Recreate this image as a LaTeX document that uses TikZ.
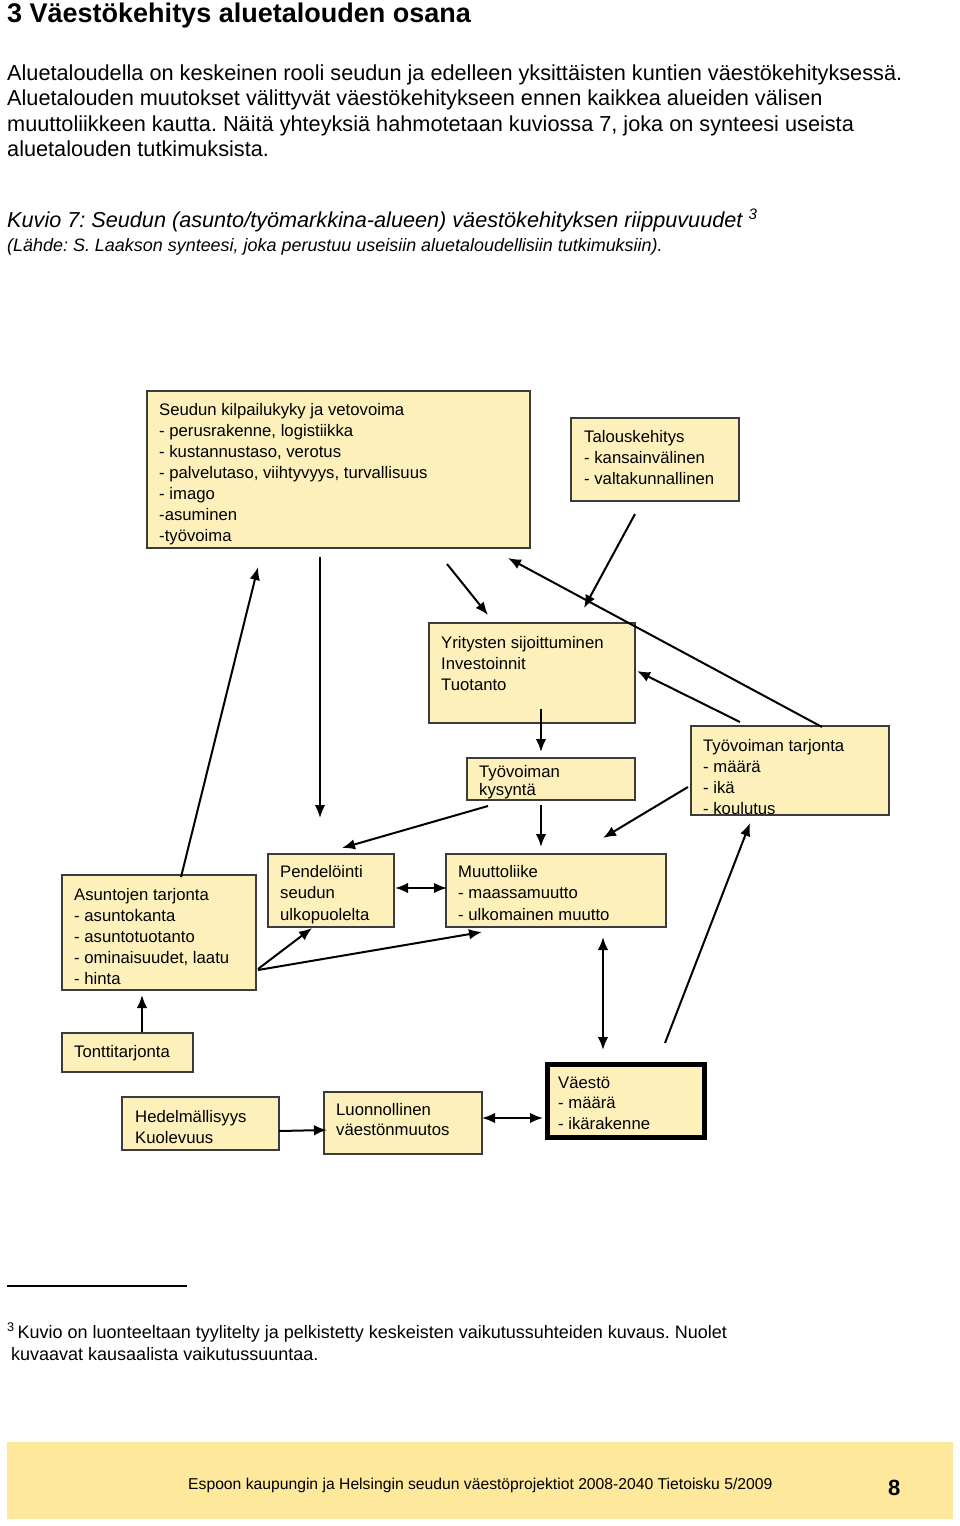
\documentclass[tikz,border=0pt]{standalone}
\usepackage{fontspec}
\setmainfont{Liberation Sans}
\usetikzlibrary{arrows.meta}
\definecolor{boxfill}{RGB}{253,240,187}
\definecolor{bandfill}{RGB}{253,232,155}
\definecolor{boxline}{RGB}{60,60,60}
\frenchspacing
\begin{document}
\begin{tikzpicture}[x=1pt,y=-1pt,
  box/.style={draw=boxline,line width=1.3pt,fill=boxfill,inner sep=0pt,outer sep=0pt,anchor=north west},
  bigbox/.style={box,draw=black,line width=5pt},
  txt/.style={inner sep=0pt,anchor=base west,align=left,font=\fontsize{16.7}{21}\selectfont},
  body/.style={inner sep=0pt,anchor=base west,align=left,font=\fontsize{21.7}{25.5}\selectfont},
  arr/.style={line width=2pt,-{Latex[length=13pt,width=10.5pt]}},
  darr/.style={line width=2pt,{Latex[length=13pt,width=10.5pt]}-{Latex[length=13pt,width=10.5pt]}}]
\useasboundingbox[fill=white] (0,0) rectangle (960,1526);

% header texts (multi-line nodes are placed by the baseline of their last line)
\node[inner sep=0pt,anchor=base west,font=\fontsize{27}{30}\selectfont\bfseries] (title) at (7,22) {3 Väestökehitys aluetalouden osana};
\node[body] (para) at (7,156.5) {Aluetaloudella on keskeinen rooli seudun ja edelleen yksittäisten kuntien väestökehityksessä.\\
Aluetalouden muutokset välittyvät väestökehitykseen ennen kaikkea alueiden välisen\\
muuttoliikkeen kautta. Näitä yhteyksiä hahmotetaan kuviossa 7, joka on synteesi useista\\
aluetalouden tutkimuksista.};
\node[body,font=\fontsize{21.65}{25.5}\selectfont\itshape] (cap) at (7,227) {Kuvio 7: Seudun (asunto/työmarkkina-alueen) väestökehityksen riippuvuudet \textsuperscript{3}};
\node[inner sep=0pt,anchor=base west,font=\fontsize{17.95}{22}\selectfont\itshape] (src) at (7,251) {(Lähde: S. Laakson synteesi, joka perustuu useisiin aluetaloudellisiin tutkimuksiin).};

% boxes
\node[box,minimum width=383pt,minimum height=157pt] (A) at (147,391) {};
\node[box,minimum width=168pt,minimum height=83pt] (B) at (571,418) {};
\node[box,minimum width=206pt,minimum height=100pt] (C) at (429,623) {};
\node[box,minimum width=168pt,minimum height=42pt] (D) at (467,758) {};
\node[box,minimum width=198pt,minimum height=89pt] (E) at (691,726) {};
\node[box,minimum width=194pt,minimum height=115pt] (F) at (62,875) {};
\node[box,minimum width=126pt,minimum height=73pt] (G) at (268,854) {};
\node[box,minimum width=220pt,minimum height=73pt] (H) at (446,854) {};
\node[box,minimum width=131pt,minimum height=39pt] (I) at (62,1033) {};
\node[box,minimum width=157pt,minimum height=53pt] (J) at (122,1097) {};
\node[box,minimum width=158pt,minimum height=62pt] (K) at (324,1092) {};
\node[bigbox,minimum width=157pt,minimum height=73pt] (L) at (547.5,1064.5) {};

% box texts
\node[txt] (At) at (159,541) {Seudun kilpailukyky ja vetovoima\\- perusrakenne, logistiikka\\- kustannustaso, verotus\\- palvelutaso, viihtyvyys, turvallisuus\\- imago\\-asuminen\\-työvoima};
\node[txt] (Bt) at (584,484) {Talouskehitys\\- kansainvälinen\\- valtakunnallinen};
\node[txt] (Ct) at (441,690) {Yritysten sijoittuminen\\Investoinnit\\Tuotanto};
\node[txt,font=\fontsize{16.7}{18}\selectfont] (Dt) at (479,795) {Työvoiman\\kysyntä};
\node[txt] (Et) at (703,814) {Työvoiman tarjonta\\- määrä\\- ikä\\- koulutus};
\node[txt] (Ft) at (74,984) {Asuntojen tarjonta\\- asuntokanta\\- asuntotuotanto\\- ominaisuudet, laatu\\- hinta};
\node[txt,font=\fontsize{16.7}{21.3}\selectfont] (Gt) at (280,920) {Pendelöinti\\seudun\\ulkopuolelta};
\node[txt,font=\fontsize{16.7}{21.3}\selectfont] (Ht) at (458,920) {Muuttoliike\\- maassamuutto\\- ulkomainen muutto};
\node[txt] (It) at (74,1057) {Tonttitarjonta};
\node[txt] (Jt) at (135,1143) {Hedelmällisyys\\Kuolevuus};
\node[txt,font=\fontsize{16.7}{20.5}\selectfont] (Kt) at (336,1135.5) {Luonnollinen\\väestönmuutos};
\node[txt,font=\fontsize{16.7}{20.7}\selectfont] (Lt) at (558,1129.5) {Väestö\\- määrä\\- ikärakenne};

% connector end points
\coordinate (a1s) at (181,877); \coordinate (a1e) at (258,567);
\coordinate (a2s) at (320,557); \coordinate (a2e) at (320,818);
\coordinate (a3s) at (447,564); \coordinate (a3e) at (488,615);
\coordinate (a4s) at (635,514); \coordinate (a4e) at (584,608);
\coordinate (a5s) at (822,727); \coordinate (a5e) at (508,558);
\coordinate (a6s) at (740,722); \coordinate (a6e) at (637,671);
\coordinate (a7s) at (541,709); \coordinate (a7e) at (541,752);
\coordinate (a8s) at (488,806); \coordinate (a8e) at (342,848);
\coordinate (a9s) at (541,805); \coordinate (a9e) at (541,847);
\coordinate (a10s) at (688,787); \coordinate (a10e) at (603,838);
\coordinate (a11s) at (395,888); \coordinate (a11e) at (447,888);
\coordinate (a12s) at (258,969); \coordinate (a12e) at (312,928);
\coordinate (a13s) at (258,970); \coordinate (a13e) at (482,932);
\coordinate (a14s) at (603,937); \coordinate (a14e) at (603,1050);
\coordinate (a15s) at (665,1043); \coordinate (a15e) at (750,823);
\coordinate (a16s) at (142,1032); \coordinate (a16e) at (142,995);
\coordinate (a17s) at (279,1131); \coordinate (a17e) at (327,1130);
\coordinate (a18s) at (482,1118); \coordinate (a18e) at (543,1118);

\draw[arr] (a1s) -- (a1e);
\draw[arr] (a2s) -- (a2e);
\draw[arr] (a3s) -- (a3e);
\draw[arr] (a4s) -- (a4e);
\draw[arr] (a5s) -- (a5e);
\draw[arr] (a6s) -- (a6e);
\draw[arr] (a7s) -- (a7e);
\draw[arr] (a8s) -- (a8e);
\draw[arr] (a9s) -- (a9e);
\draw[arr] (a10s) -- (a10e);
\draw[darr] (a11s) -- (a11e);
\draw[arr] (a12s) -- (a12e);
\draw[arr] (a13s) -- (a13e);
\draw[darr] (a14s) -- (a14e);
\draw[arr] (a15s) -- (a15e);
\draw[arr] (a16s) -- (a16e);
\draw[arr] (a17s) -- (a17e);
\draw[darr] (a18s) -- (a18e);

% footnote
\coordinate (r1) at (7,1286); \coordinate (r2) at (187,1286);
\draw[line width=1.5pt] (r1) -- (r2);
\node[inner sep=0pt,anchor=base west,align=left,font=\fontsize{18}{22}\selectfont] (fn) at (7,1360) {\textsuperscript{3}\hspace{3pt}Kuvio on luonteeltaan tyylitelty ja pelkistetty keskeisten vaikutussuhteiden kuvaus. Nuolet\\\hspace*{4pt}kuvaavat kausaalista vaikutussuuntaa.};

% footer band
\node[inner sep=0pt,outer sep=0pt,anchor=north west,fill=bandfill,minimum width=946pt,minimum height=77pt] (band) at (7,1442) {};
\node[inner sep=0pt,anchor=base west,font=\fontsize{15.7}{18}\selectfont] (foot) at (188,1489) {Espoon kaupungin ja Helsingin seudun väestöprojektiot 2008-2040 Tietoisku 5/2009};
\node[inner sep=0pt,anchor=base west,font=\fontsize{22}{24}\selectfont\bfseries] (pg) at (888,1495) {8};
\end{tikzpicture}
\end{document}
